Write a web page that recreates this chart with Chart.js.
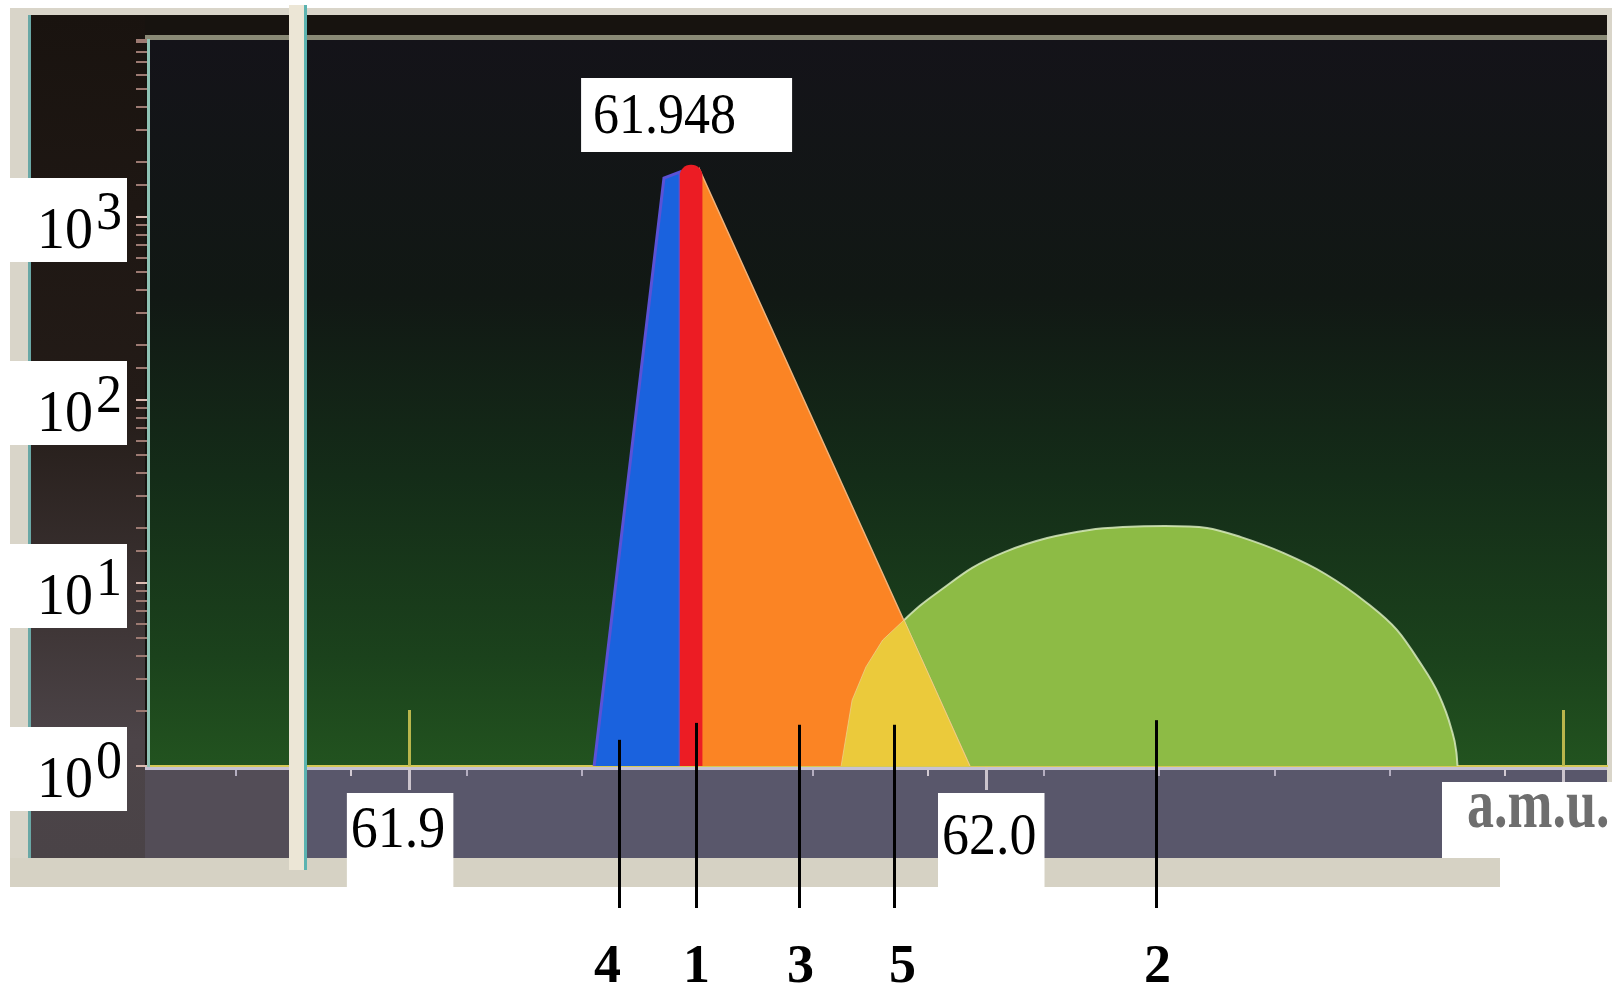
<!DOCTYPE html>
<html>
<head>
<meta charset="utf-8">
<script src="https://cdn.jsdelivr.net/npm/chart.js@4.4.1/dist/chart.umd.min.js"></script>
<style>
  html, body { margin: 0; background: #fff; }
  #wrap { width: 1612px; height: 986px; position: relative; }
</style>
</head>
<body>
<div id="wrap"><canvas id="spectrum"></canvas></div>
<script>
// -------------------- values -------------------- //

var xRange = [61.8548, 62.1076];     // a.m.u. across the plot window
var yRange = [1, 9270];              // counts, log axis

var yDecades = [1, 10, 100, 1000];   // labelled decades
var yExponents = ['0', '1', '2', '3'];

var xMajor = [61.9, 62.0, 62.1];     // long ticks
var xLabelValues = [61.9, 62.0];
var xLabels = ['61.9', '62.0'];
var xUnit = 'a.m.u.';
var peakTag = '61.948';

var peak4X = [61.9321, 61.9442, 61.9470, 61.9470];   // blue
var peak4Y = [1, 1633, 1762, 1];

var peak1X = [61.9489];                              // red bar
var peak1Y = [1923];

var peak3X = [61.9504, 61.9504, 61.9972];            // orange
var peak3Y = [1, 1806, 1];

var peak2X = [61.9749, 61.9768, 61.9792, 61.9821, 61.9858, 61.9887, 61.9924, 61.9976,
  62.0033, 62.0106, 62.0179, 62.0237, 62.0310, 62.0383, 62.0442, 62.0515, 62.0588,
  62.0660, 62.0712, 62.0749, 62.0785, 62.0806, 62.0815, 62.0817];   // green
var peak2Y = [1, 2.29, 3.48, 4.88, 6.28, 7.58, 9.27, 12.1, 14.8, 17.6, 19.5, 20.2,
  20.5, 20.0, 17.8, 14.6, 11.2, 7.78, 5.54, 3.80, 2.44, 1.61, 1.19, 1];

var peak5X = [61.9749, 61.9768, 61.9792, 61.9821, 61.9858, 61.9972];   // yellow, 3 over 2
var peak5Y = [1, 2.29, 3.48, 4.88, 6.28, 1];

var calloutNames = ['4', '1', '3', '5', '2'];
var calloutX = [61.9364, 61.9497, 61.9676, 61.9841, 62.0295];
var calloutTop = [1.39, 1.72, 1.68, 1.68, 1.78];

// -------------------- helpers -------------------- //

var SERIF = '"Liberation Serif", "DejaVu Serif", serif';

function pts(xs, ys) {
  var out = [];
  for (var i = 0; i < xs.length; i++) out.push({ x: xs[i], y: ys[i] });
  return out;
}

function serif(ctx, txt, x, y, size, bold, color, sy) {
  ctx.save();
  ctx.translate(x, y);
  ctx.scale(1, sy || 1);
  ctx.font = (bold ? 'bold ' : '') + size + 'px ' + SERIF;
  ctx.fillStyle = color || '#000';
  ctx.textBaseline = 'alphabetic';
  ctx.fillText(txt, 0, 0);
  ctx.restore();
}

function isTenth(v) {
  return Math.abs(v * 10 - Math.round(v * 10)) < 1e-6;
}

// -------------------- screen / photo frame -------------------- //

var frame = {
  id: 'frame',
  beforeDraw: function (chart) {
    var c = chart.ctx, a = chart.chartArea;
    c.save();
    c.fillStyle = '#fff';
    c.fillRect(0, 0, chart.width, chart.height);

    c.fillStyle = '#d9d5c9';                       // light monitor rim
    c.fillRect(10, 8, chart.width - 10, 850);
    c.fillStyle = '#6aa8a6';
    c.fillRect(28, 15, 3, 843);
    c.fillStyle = '#17130f';                       // dark bezel
    c.fillRect(31, 15, a.right - 31, a.bottom - 11);

    var g = c.createLinearGradient(0, 15, 0, 858);  // left strip
    g.addColorStop(0, '#19130f');
    g.addColorStop(0.45, '#231b17');
    g.addColorStop(0.7, '#3c3333');
    g.addColorStop(0.86, '#4c4448');
    g.addColorStop(1, '#4a4347');
    c.fillStyle = g;
    c.fillRect(31, 15, a.left - 34, 843);

    c.fillStyle = '#8a8a76';                       // top border of plot
    c.fillRect(a.left - 3, a.top - 5, a.right - a.left + 3, 5);

    var s = c.createLinearGradient(0, a.top, 0, a.bottom);   // plot background
    s.addColorStop(0, '#141319');
    s.addColorStop(0.35, '#111814');
    s.addColorStop(0.6, '#142c18');
    s.addColorStop(0.85, '#1b421c');
    s.addColorStop(1, '#22531f');
    c.fillStyle = s;
    c.fillRect(a.left, a.top, a.right - a.left, a.bottom - a.top);

    c.fillStyle = '#59576b';                       // grey strip under the axis
    c.fillRect(a.left - 3, a.bottom + 4, a.right - a.left + 3, 858 - a.bottom - 4);
    c.fillStyle = '#534d57';
    c.fillRect(a.left - 3, a.bottom + 4, 145, 858 - a.bottom - 4);

    c.fillStyle = '#d6d2c4';                       // bottom rim
    c.fillRect(10, 858, 1490, 29);
    c.restore();
  },
  beforeDatasetsDraw: function (chart) {
    var c = chart.ctx, a = chart.chartArea, x = chart.scales.x;
    c.save();
    c.fillStyle = '#c6c2d4';
    c.fillRect(a.left - 3, a.bottom + 1, a.right - a.left + 3, 3);

    for (var i = 0; i < xMajor.length; i++) {       // long ticks at 0.1 a.m.u.
      var px = Math.round(x.getPixelForValue(xMajor[i]));
      c.fillStyle = '#b9b64c';
      c.fillRect(px - 1, a.bottom - 56, 3, 56);
      c.fillStyle = '#cbc4cc';
      c.fillRect(px - 1, a.bottom + 1, 3, 23);
    }

    c.fillStyle = '#ece6d6';                       // pane separator
    c.fillRect(289, 5, 15, 865);
    c.fillStyle = '#5cb3b0';
    c.fillRect(304, 5, 3, 865);
    c.restore();
  },
  afterDraw: function (chart) {
    var c = chart.ctx, a = chart.chartArea, x = chart.scales.x, y = chart.scales.y;
    var i, px, py;
    c.save();

    for (i = 0; i < yDecades.length; i++) {         // 10^n boxes
      py = Math.round(y.getPixelForValue(yDecades[i]));
      c.fillStyle = '#fff';
      c.fillRect(10, py - 39, 117, 84);
      serif(c, '10', 37, py + 31, 56, false, '#000', 1.05);
      serif(c, yExponents[i], 96, py + 12, 52, false, '#000', 1.05);
    }

    var shift = [-58, -44], base = [847, 854];     // hand placed on the photo
    c.font = '54px ' + SERIF;
    for (i = 0; i < xLabelValues.length; i++) {
      px = x.getPixelForValue(xLabelValues[i]) + shift[i];
      var w = c.measureText(xLabels[i]).width;
      c.fillStyle = '#fff';
      c.fillRect(px - 4, 793, w + 12, 94);
      serif(c, xLabels[i], px, base[i], 54, false, '#000', 1.08);
    }

    c.fillStyle = '#fff';                          // unit box
    c.fillRect(a.right - 165, a.bottom + 16, 170, 76);
    serif(c, xUnit, a.right - 140, a.bottom + 61, 54, true, '#6e6e6e', 1.3);

    px = x.getPixelForValue(peak1X[0]);             // peak position tag
    c.fillStyle = '#fff';
    c.fillRect(px - 110, 78, 211, 74);
    serif(c, peakTag, px - 98, 133, 52, false, '#000', 1.1);

    var nudge = [-12, 0, 1, 8, 1];
    c.strokeStyle = '#000';
    c.lineWidth = 3;
    c.textAlign = 'center';
    for (i = 0; i < calloutNames.length; i++) {
      px = Math.round(x.getPixelForValue(calloutX[i])) + 0.5;
      py = y.getPixelForValue(calloutTop[i]);
      c.beginPath();
      c.moveTo(px, py);
      c.lineTo(px, 908);
      c.stroke();
      c.font = 'bold 54px ' + SERIF;
      c.fillStyle = '#000';
      c.fillText(calloutNames[i], px + nudge[i], 982);
    }
    c.restore();
  }
};

// -------------------- chart -------------------- //

var chart = new Chart(document.getElementById('spectrum'), {
  type: 'line',
  data: {
    datasets: [
      {
        type: 'bar', label: '1', data: pts(peak1X, peak1Y), order: 0,
        backgroundColor: '#ec1c24', barThickness: 22,
        borderRadius: { topLeft: 11, topRight: 11 }, borderSkipped: 'start'
      },
      {
        label: '4', data: pts(peak4X, peak4Y), order: 1,
        backgroundColor: '#1a62de', borderColor: '#5b52d6', borderWidth: 3,
        fill: 'start', pointRadius: 0, tension: 0
      },
      {
        label: '5', data: pts(peak5X, peak5Y), order: 2,
        backgroundColor: '#ebca3b', borderColor: 'rgba(235,215,150,0.7)', borderWidth: 1,
        fill: 'start', pointRadius: 0, tension: 0
      },
      {
        label: '3', data: pts(peak3X, peak3Y), order: 3,
        backgroundColor: '#fb8424', borderColor: '#f1b27a', borderWidth: 1.5,
        fill: 'start', pointRadius: 0, tension: 0
      },
      {
        label: '2', data: pts(peak2X, peak2Y), order: 4,
        backgroundColor: '#8dbb45', borderColor: 'rgba(214,232,188,0.85)', borderWidth: 2,
        fill: 'start', pointRadius: 0, cubicInterpolationMode: 'monotone'
      }
    ]
  },
  options: {
    responsive: true,
    maintainAspectRatio: false,
    animation: false,
    layout: { padding: { left: 136, right: 5, top: 40, bottom: 210 } },
    plugins: { legend: { display: false }, tooltip: { enabled: false } },
    scales: {
      x: {
        type: 'linear', min: xRange[0], max: xRange[1], offset: false,
        ticks: { display: false, stepSize: 0.02, includeBounds: false },
        grid: {
          drawOnChartArea: false, tickLength: 10, lineWidth: 2,
          color: function (ctx) { return ctx.tick && isTenth(ctx.tick.value) ? '#d2cad2' : '#b4aec0'; }
        },
        border: { display: true, color: '#d6c956', width: 2 }
      },
      y: {
        type: 'logarithmic', min: yRange[0], max: yRange[1],
        ticks: { display: false },
        grid: {
          drawOnChartArea: false, tickLength: 12, lineWidth: 2,
          color: function (ctx) { return ctx.tick && ctx.tick.major ? '#dcbcb2' : '#9c7a72'; }
        },
        border: { display: true, color: '#8fc3b5', width: 3 }
      }
    }
  },
  plugins: [frame]
});
</script>
</body>
</html>
